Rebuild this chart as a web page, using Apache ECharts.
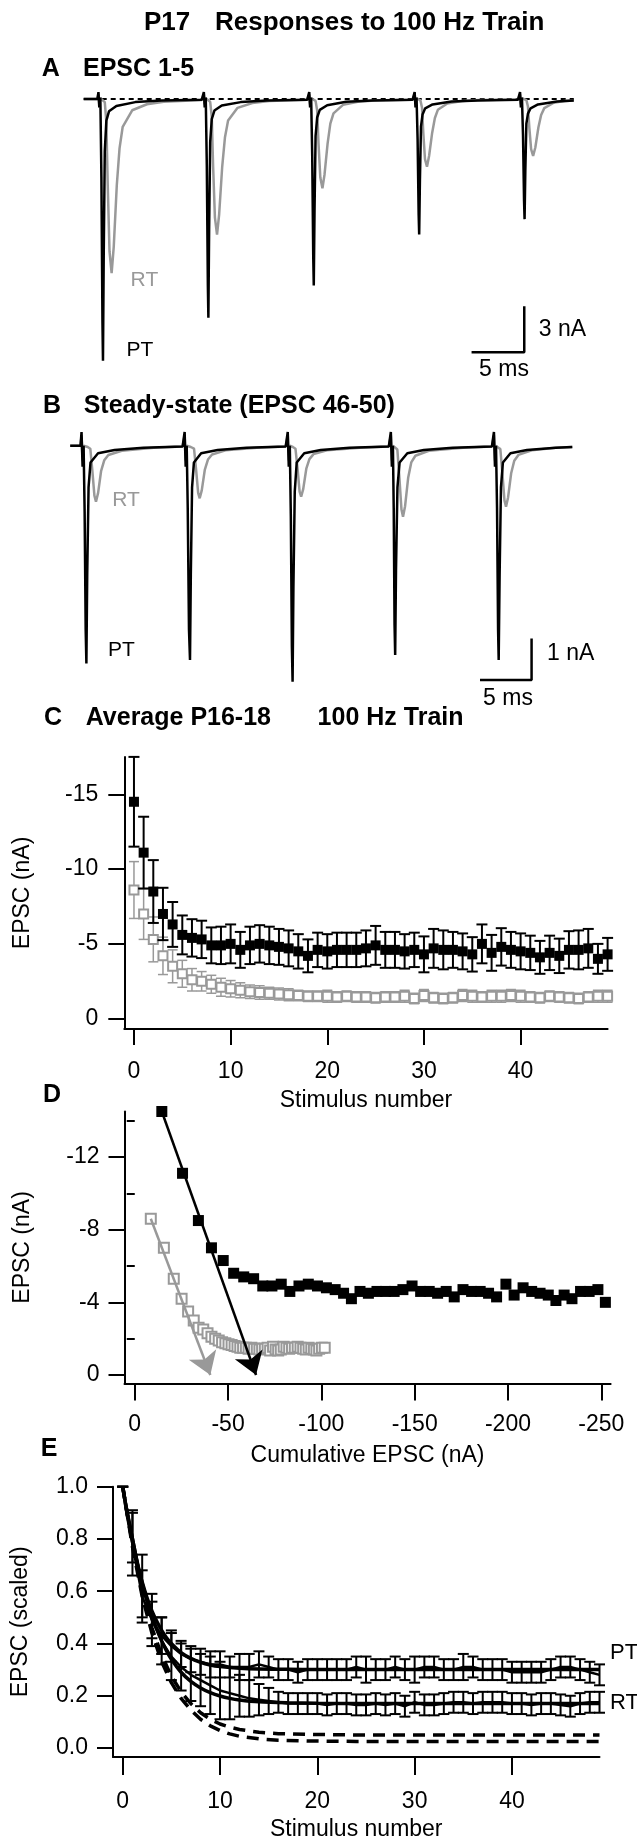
<!DOCTYPE html>
<html><head><meta charset="utf-8">
<script src="https://cdn.jsdelivr.net/npm/echarts@6/dist/echarts.min.js"></script>
<style>html,body{margin:0;padding:0;background:#fff}#c{width:637px;height:1842px}</style>
</head><body><div id="c"></div>
<script>
const FONT = '"Liberation Sans", Arial, Helvetica, sans-serif';
const GRAY = '#999999';

// ---------- Panel A: EPSC 1-5 traces (t in ms, I in nA) ----------
const A_PT = [[-1.4,0],[-0.1,0],[0,0.45],[0.08,-0.55],[0.18,0.1],[0.28,-5.1],[0.38,-14.5],[0.43,-17.0],[0.5,-10.2],[0.6,-3.4],[0.75,-1.4],[1.0,-0.8],[1.7,-0.45],[3.5,-0.2],[6,-0.1],[9.8,-0.05],
[10,0.45],[10.08,-0.55],[10.18,0.1],[10.28,-4.3],[10.38,-12.1],[10.43,-14.2],[10.5,-8.5],[10.6,-2.8],[10.75,-1.3],[11,-0.75],[11.7,-0.42],[13.5,-0.2],[16,-0.1],[19.8,-0.05],
[20,0.45],[20.08,-0.55],[20.18,0.1],[20.28,-3.6],[20.38,-10.3],[20.43,-12.1],[20.5,-7.3],[20.6,-2.4],[20.75,-1.2],[21,-0.7],[21.7,-0.4],[23.5,-0.18],[26,-0.1],[29.8,-0.05],
[30,0.45],[30.08,-0.55],[30.18,0.1],[30.28,-2.6],[30.38,-7.5],[30.43,-8.8],[30.5,-5.3],[30.6,-1.8],[30.75,-1.0],[31,-0.6],[31.7,-0.35],[33.5,-0.16],[36,-0.09],[39.8,-0.05],
[40,0.45],[40.08,-0.55],[40.18,0.1],[40.28,-2.3],[40.38,-6.6],[40.43,-7.8],[40.5,-4.7],[40.6,-1.6],[40.75,-0.95],[41,-0.6],[41.7,-0.35],[43.5,-0.16],[45.1,-0.1]];
const A_RT = [[-1.4,0],[-0.1,0],[0,0.3],[0.08,-0.35],[0.18,0.05],[0.6,-0.2],[0.75,-1.5],[0.88,-5.6],[1.05,-9.9],[1.25,-11.3],[1.45,-9.6],[1.74,-5.6],[2.0,-3.2],[2.3,-1.8],[3.2,-0.73],[4.6,-0.34],[6.2,-0.17],[9.8,-0.06],
[10,0.3],[10.08,-0.35],[10.18,0.05],[10.6,-0.18],[10.75,-1.15],[10.88,-4.4],[11.05,-7.7],[11.25,-8.8],[11.45,-7.5],[11.74,-4.4],[12.0,-2.5],[12.3,-1.4],[13.2,-0.57],[14.6,-0.26],[16.2,-0.13],[19.8,-0.05],
[20,0.3],[20.08,-0.35],[20.18,0.05],[20.6,-0.12],[20.75,-0.75],[20.88,-2.9],[21.05,-5.1],[21.25,-5.8],[21.45,-4.9],[21.74,-2.9],[22.0,-1.6],[22.3,-0.93],[23.2,-0.38],[24.6,-0.17],[26.2,-0.09],[29.8,-0.04],
[30,0.3],[30.08,-0.35],[30.18,0.05],[30.55,-0.09],[30.7,-0.57],[30.82,-2.2],[30.98,-3.9],[31.17,-4.4],[31.37,-3.7],[31.66,-2.2],[31.92,-1.23],[32.2,-0.7],[33.1,-0.29],[34.5,-0.13],[36.1,-0.07],[39.8,-0.03],
[40,0.3],[40.08,-0.35],[40.18,0.05],[40.6,-0.07],[40.75,-0.48],[40.88,-1.85],[41.05,-3.25],[41.24,-3.7],[41.45,-3.15],[41.74,-1.85],[42.0,-1.04],[42.3,-0.59],[43.2,-0.24],[44.2,-0.13],[45.1,-0.09]];
const A_BASELINE = [[-1.4,0],[45.1,0]];
const A_SCALEBAR = [[35.4,-16.45],[40.4,-16.45],[40.4,-13.45]]; // 5 ms, 3 nA

// ---------- Panel B: steady-state EPSC 46-50 ----------
const B_PT = [[-1.1,0],[-0.1,0],[0,0.33],[0.1,-0.5],[0.2,0],[0.3,-1.6],[0.4,-4.4],[0.47,-5.22],[0.55,-3.1],[0.68,-1.0],[0.87,-0.4],[1.6,-0.18],[3.2,-0.1],[6,-0.05],[9.8,-0.02],
[10,0.33],[10.1,-0.5],[10.2,0],[10.3,-1.5],[10.42,-4.4],[10.52,-5.14],[10.6,-3.1],[10.72,-1.0],[10.9,-0.4],[11.6,-0.18],[13.2,-0.1],[16,-0.05],[19.8,-0.02],
[20,0.33],[20.1,-0.5],[20.2,0],[20.3,-1.7],[20.4,-4.8],[20.47,-5.66],[20.55,-3.4],[20.68,-1.1],[20.87,-0.4],[21.6,-0.18],[23.2,-0.1],[26,-0.05],[29.8,-0.02],
[30,0.33],[30.1,-0.5],[30.2,0],[30.28,-1.5],[30.36,-4.3],[30.42,-5.02],[30.5,-3.0],[30.64,-1.0],[30.85,-0.4],[31.6,-0.18],[33.2,-0.1],[36,-0.05],[39.8,-0.02],
[40,0.33],[40.1,-0.5],[40.2,0],[40.3,-1.5],[40.4,-4.4],[40.46,-5.14],[40.55,-3.1],[40.68,-1.0],[40.87,-0.4],[41.6,-0.18],[43.2,-0.1],[46,-0.05],[47.6,-0.03]];
const B_RT = [[-1.1,0],[-0.1,0],[0,0.25],[0.1,-0.35],[0.2,0],[0.6,-0.03],[0.85,-0.07],[1.05,-0.6],[1.25,-1.2],[1.4,-1.34],[1.6,-1.14],[1.9,-0.6],[2.2,-0.35],[2.6,-0.22],[3.9,-0.12],[7,-0.05],[9.8,-0.02],
[10,0.25],[10.1,-0.35],[10.2,0],[10.6,-0.03],[10.91,-0.07],[11.11,-0.57],[11.31,-1.13],[11.46,-1.26],[11.66,-1.07],[11.96,-0.57],[12.26,-0.33],[12.66,-0.21],[13.96,-0.11],[17,-0.05],[19.8,-0.02],
[20,0.25],[20.1,-0.35],[20.2,0],[20.5,-0.03],[20.75,-0.07],[20.95,-0.55],[21.15,-1.1],[21.3,-1.22],[21.5,-1.04],[21.8,-0.55],[22.1,-0.32],[22.5,-0.2],[23.8,-0.11],[27,-0.05],[29.8,-0.02],
[30,0.25],[30.1,-0.35],[30.2,0],[30.4,-0.04],[30.63,-0.09],[30.83,-0.77],[31.03,-1.53],[31.18,-1.7],[31.38,-1.45],[31.68,-0.77],[31.98,-0.4],[32.38,-0.24],[33.68,-0.12],[37,-0.05],[39.8,-0.02],
[40,0.25],[40.1,-0.35],[40.2,0],[40.4,-0.04],[40.62,-0.08],[40.82,-0.66],[41.02,-1.31],[41.17,-1.46],[41.37,-1.24],[41.67,-0.66],[41.97,-0.36],[42.37,-0.22],[43.67,-0.11],[46,-0.05],[47.6,-0.03]];
const B_SCALEBAR = [[38.65,-5.62],[43.65,-5.62],[43.65,-4.62]]; // 5 ms, 1 nA

// ---------- Panel C: average EPSC (nA) vs stimulus number ----------
const PT_MEAN = [-14.5,-11.1,-8.5,-7.0,-6.3,-5.6,-5.4,-5.3,-4.9,-4.9,-5.0,-4.6,-4.9,-5.0,-4.9,-4.8,-4.7,-4.5,-4.2,-4.6,-4.5,-4.6,-4.6,-4.6,-4.7,-4.9,-4.6,-4.6,-4.5,-4.6,-4.3,-4.7,-4.6,-4.6,-4.5,-4.3,-5.0,-4.4,-4.8,-4.6,-4.5,-4.4,-4.1,-4.4,-4.2,-4.6,-4.6,-4.7,-4.0,-4.3];
const PT_SEM = [3.0,2.4,2.1,1.75,1.5,1.3,1.25,1.25,1.2,1.25,1.3,1.2,1.25,1.25,1.25,1.2,1.2,1.15,1.1,1.15,1.15,1.15,1.15,1.15,1.2,1.3,1.2,1.2,1.15,1.15,1.2,1.3,1.3,1.2,1.2,1.15,1.3,1.2,1.25,1.2,1.2,1.15,1.1,1.15,1.15,1.25,1.3,1.3,1.0,1.1];
const RT_MEAN = [-8.6,-7.0,-5.3,-4.2,-3.5,-3.0,-2.6,-2.5,-2.3,-2.1,-2.0,-1.9,-1.8,-1.75,-1.7,-1.65,-1.6,-1.55,-1.5,-1.5,-1.5,-1.45,-1.5,-1.45,-1.45,-1.4,-1.45,-1.45,-1.5,-1.35,-1.55,-1.4,-1.35,-1.4,-1.55,-1.5,-1.45,-1.5,-1.5,-1.55,-1.5,-1.45,-1.4,-1.5,-1.45,-1.4,-1.35,-1.45,-1.5,-1.5];
const RT_SEM = [1.9,1.7,1.5,1.25,1.1,0.9,0.75,0.65,0.6,0.6,0.55,0.5,0.45,0.45,0.4,0.4,0.4,0.35,0.35,0.35,0.4,0.35,0.35,0.35,0.35,0.35,0.35,0.35,0.4,0.35,0.4,0.35,0.35,0.35,0.4,0.4,0.35,0.4,0.4,0.4,0.4,0.35,0.35,0.35,0.35,0.35,0.35,0.35,0.4,0.4];

// ---------- Panel D: linear back-extrapolation arrows ----------
const D_ARROW_PT = [[-14.5,-14.5],[-65,0]];
const D_ARROW_RT = [[-8.6,-8.6],[-40.5,0]];

// ---------- Panel E: scaled EPSC ----------
const PT_SCALED = [1.0,0.78,0.58,0.49,0.43,0.39,0.36,0.34,0.33,0.32,0.32,0.31,0.31,0.31,0.32,0.31,0.30,0.30,0.29,0.30,0.30,0.30,0.30,0.30,0.31,0.30,0.30,0.30,0.31,0.30,0.30,0.31,0.31,0.30,0.30,0.31,0.31,0.30,0.30,0.30,0.29,0.29,0.29,0.29,0.30,0.31,0.31,0.30,0.29,0.28];
const PT_SCALED_SEM = [0.0,0.12,0.1,0.07,0.07,0.06,0.05,0.05,0.05,0.05,0.05,0.04,0.05,0.05,0.05,0.04,0.04,0.04,0.04,0.04,0.04,0.04,0.04,0.04,0.04,0.05,0.04,0.04,0.04,0.04,0.05,0.04,0.04,0.04,0.04,0.05,0.04,0.04,0.04,0.04,0.04,0.04,0.04,0.04,0.04,0.04,0.04,0.04,0.04,0.04];
const RT_SCALED = [1.0,0.81,0.62,0.49,0.41,0.35,0.31,0.28,0.26,0.24,0.22,0.21,0.20,0.19,0.185,0.18,0.175,0.17,0.17,0.17,0.17,0.165,0.17,0.17,0.165,0.165,0.17,0.165,0.17,0.16,0.175,0.165,0.165,0.17,0.175,0.175,0.17,0.175,0.175,0.175,0.17,0.17,0.165,0.17,0.17,0.165,0.16,0.17,0.175,0.175];
const RT_SCALED_SEM = [0,0.1,0.12,0.1,0.09,0.09,0.09,0.1,0.1,0.11,0.11,0.1,0.08,0.07,0.06,0.05,0.04,0.04,0.04,0.04,0.04,0.04,0.04,0.04,0.04,0.04,0.04,0.04,0.04,0.04,0.04,0.04,0.04,0.04,0.04,0.04,0.04,0.04,0.04,0.04,0.04,0.04,0.04,0.04,0.04,0.04,0.04,0.04,0.04,0.04];
const PT_FIT = [[0,1.0],[0.5,0.885],[1,0.79],[1.5,0.705],[2,0.635],[2.5,0.575],[3,0.525],[3.5,0.485],[4,0.45],[4.5,0.422],[5,0.40],[6,0.365],[7,0.343],[8,0.328],[9,0.318],[10,0.312],[12,0.305],[14,0.302],[17,0.301],[20,0.30],[49,0.30]];
const RT_FIT = [[0,1.0],[0.5,0.89],[1,0.80],[1.5,0.71],[2,0.63],[2.5,0.565],[3,0.505],[3.5,0.455],[4,0.41],[4.5,0.372],[5,0.34],[6,0.29],[7,0.255],[8,0.23],[9,0.212],[10,0.199],[11,0.19],[12,0.184],[14,0.177],[17,0.173],[20,0.171],[25,0.17],[49,0.17]];
const PT_DEPL = [[0,1.0],[1,0.78],[2,0.60],[3,0.46],[4,0.355],[5,0.275],[6,0.215],[7,0.17],[8,0.135],[9,0.11],[10,0.092],[11,0.08],[12,0.071],[14,0.06],[16,0.055],[19,0.052],[24,0.05],[49,0.05]];
const RT_DEPL = [[0,1.0],[1,0.77],[2,0.58],[3,0.44],[4,0.33],[5,0.25],[6,0.19],[7,0.145],[8,0.11],[9,0.085],[10,0.067],[11,0.054],[12,0.045],[14,0.035],[16,0.03],[19,0.027],[24,0.025],[49,0.025]];

// ---------- tick values ----------
const C_X_TICKS = [0,10,20,30,40];
const C_Y_TICKS = [0,-5,-10,-15];
const D_X_TICKS = [0,-50,-100,-150,-200,-250];
const D_Y_TICKS = [0,-4,-8,-12];
const D_Y_MINOR = [-2,-6,-10,-14];
const E_X_TICKS = [0,10,20,30,40];
const E_Y_TICKS = [0,0.2,0.4,0.6,0.8,1.0];

// ---------- derived ----------
const idx = a => a.map((v,i)=>[i,v]);
const errData = (m,s) => m.map((v,i)=>[i, v - s[i], v + s[i]]);
function cumulative(a){ let s=0; return a.map(v=>{ s+=v; return [s,v]; }); }

function errRender(color, lw, cap){
  return function(params, api){
    const x = api.value(0);
    const p1 = api.coord([x, api.value(1)]);
    const p2 = api.coord([x, api.value(2)]);
    const h = cap/2, st = {stroke: color, lineWidth: lw};
    return {type:'group', children:[
      {type:'line', shape:{x1:p1[0],y1:p1[1],x2:p2[0],y2:p2[1]}, style:st},
      {type:'line', shape:{x1:p1[0]-h,y1:p1[1],x2:p1[0]+h,y2:p1[1]}, style:st},
      {type:'line', shape:{x1:p2[0]-h,y1:p2[1],x2:p2[0]+h,y2:p2[1]}, style:st}
    ]};
  };
}

const axisTxt = {fontSize:23, color:'#000', fontFamily:FONT};
function visAxis(extra){
  return Object.assign({
    axisLine:{show:true, onZero:false, lineStyle:{color:'#000', width:2}},
    splitLine:{show:false}
  }, extra);
}
const hidden = (gi,min,max)=>({gridIndex:gi, type:'value', min, max, show:false});

const chart = echarts.init(document.getElementById('c'), null, {renderer:'canvas'});
const T = (text,x,y,o)=>({type:'text', x, y, style:Object.assign({text, fontSize:23, fontFamily:FONT, fill:'#000', align:'left', verticalAlign:'middle'}, o||{})});
const B = {fontWeight:'bold', fontSize:25};

chart.setOption({
  animation:false,
  backgroundColor:'#fff',
  grid:[
    {left:83.7, top:89.8, width:490.1, height:274.1},
    {left:70.2, top:427, width:502.1, height:260.6},
    {left:124.3, top:756.9, width:483.3, height:272.1},
    {left:124.5, top:1111.5, width:486.1, height:271.9},
    {left:113, top:1486.7, width:486.5, height:270.6}
  ],
  xAxis:[
    hidden(0,-1.4,45.1),
    hidden(1,-1.1,47.6),
    visAxis({gridIndex:2, type:'value', min:-1, max:49, position:'bottom',
      axisTick:{length:16, lineStyle:{width:2,color:'#000'}, customValues:C_X_TICKS},
      axisLabel:Object.assign({customValues:C_X_TICKS, margin:31}, axisTxt),
      name:'Stimulus number', nameLocation:'middle', nameGap:60, nameTextStyle:axisTxt}),
    visAxis({gridIndex:3, type:'value', min:-255, max:5.5, inverse:true, position:'bottom',
      axisTick:{length:17, lineStyle:{width:2,color:'#000'}, customValues:D_X_TICKS},
      axisLabel:Object.assign({customValues:D_X_TICKS, margin:30}, axisTxt),
      name:'Cumulative EPSC (nA)', nameLocation:'middle', nameGap:61, nameTextStyle:axisTxt}),
    visAxis({gridIndex:4, type:'value', min:-1, max:49, position:'bottom',
      axisTick:{length:18, lineStyle:{width:2,color:'#000'}, customValues:E_X_TICKS},
      axisLabel:Object.assign({customValues:E_X_TICKS, margin:33}, axisTxt),
      name:'Stimulus number', nameLocation:'middle', nameGap:61, nameTextStyle:axisTxt})
  ],
  yAxis:[
    hidden(0,-17.2,0.6),
    hidden(1,-5.8,0.45),
    visAxis({gridIndex:2, type:'value', min:-17.5, max:0.69, inverse:true, position:'left',
      axisTick:{length:16, lineStyle:{width:2,color:'#000'}, customValues:C_Y_TICKS},
      axisLabel:Object.assign({customValues:C_Y_TICKS, margin:26}, axisTxt),
      name:'EPSC (nA)', nameLocation:'middle', nameGap:90, nameTextStyle:axisTxt}),
    visAxis({gridIndex:3, type:'value', min:-14.5, max:0.46, inverse:true, position:'left',
      axisTick:{length:16, lineStyle:{width:2,color:'#000'}, customValues:D_Y_TICKS},
      axisLabel:Object.assign({customValues:D_Y_TICKS, margin:25}, axisTxt),
      name:'EPSC (nA)', nameLocation:'middle', nameGap:90, nameTextStyle:axisTxt}),
    {gridIndex:3, type:'value', min:-14.5, max:0.46, inverse:true, position:'left',
      axisLine:{show:false}, splitLine:{show:false}, axisLabel:{show:false},
      axisTick:{show:true, length:8, lineStyle:{width:2,color:'#000'}, customValues:D_Y_MINOR}},
    visAxis({gridIndex:4, type:'value', min:-0.0344, max:1.0, position:'left',
      axisTick:{length:16, lineStyle:{width:2,color:'#000'}, customValues:E_Y_TICKS},
      axisLabel:Object.assign({customValues:E_Y_TICKS, margin:25, formatter:v=>Number(v).toFixed(1)}, axisTxt),
      name:'EPSC (scaled)', nameLocation:'middle', nameGap:81, nameTextStyle:axisTxt})
  ],
  series:[
    // A
    {type:'line', xAxisIndex:0, yAxisIndex:0, data:A_BASELINE, symbol:'none', lineStyle:{color:'#000', width:2, type:[5,4]}, z:1},
    {type:'line', xAxisIndex:0, yAxisIndex:0, data:A_RT, symbol:'none', lineStyle:{color:GRAY, width:2.5}, z:2},
    {type:'line', xAxisIndex:0, yAxisIndex:0, data:A_PT, symbol:'none', lineStyle:{color:'#000', width:2.5}, z:3},
    {type:'line', xAxisIndex:0, yAxisIndex:0, data:A_SCALEBAR, symbol:'none', lineStyle:{color:'#000', width:2.5}, z:3},
    // B
    {type:'line', xAxisIndex:1, yAxisIndex:1, data:B_RT, symbol:'none', lineStyle:{color:GRAY, width:2.5}, z:2},
    {type:'line', xAxisIndex:1, yAxisIndex:1, data:B_PT, symbol:'none', lineStyle:{color:'#000', width:2.5}, z:3},
    {type:'line', xAxisIndex:1, yAxisIndex:1, data:B_SCALEBAR, symbol:'none', lineStyle:{color:'#000', width:2.5}, z:3},
    // C
    {type:'custom', xAxisIndex:2, yAxisIndex:2, data:errData(RT_MEAN,RT_SEM), renderItem:errRender(GRAY,1.5,10), encode:{x:0,y:[1,2]}, clip:false, z:2},
    {type:'scatter', xAxisIndex:2, yAxisIndex:2, data:idx(RT_MEAN), symbol:'emptyRect', symbolSize:9, itemStyle:{color:GRAY, borderColor:GRAY, borderWidth:1.5, opacity:1}, z:3},
    {type:'custom', xAxisIndex:2, yAxisIndex:2, data:errData(PT_MEAN,PT_SEM), renderItem:errRender('#000',2,11), encode:{x:0,y:[1,2]}, clip:false, z:4},
    {type:'scatter', xAxisIndex:2, yAxisIndex:2, data:idx(PT_MEAN), symbol:'rect', symbolSize:10, itemStyle:{color:'#000', opacity:1}, z:5},
    // D
    {type:'scatter', xAxisIndex:3, yAxisIndex:3, data:cumulative(RT_MEAN), symbol:'emptyRect', symbolSize:10, itemStyle:{color:GRAY, borderColor:GRAY, borderWidth:1.5, opacity:1}, z:2},
    {type:'scatter', xAxisIndex:3, yAxisIndex:3, data:cumulative(PT_MEAN), symbol:'rect', symbolSize:11, itemStyle:{color:'#000', opacity:1}, z:3},
    {type:'lines', coordinateSystem:'cartesian2d', xAxisIndex:3, yAxisIndex:3, data:[{coords:D_ARROW_RT}], symbol:['none','arrow'], symbolSize:[13,22], lineStyle:{color:GRAY, width:2.5, opacity:1}, z:4},
    {type:'lines', coordinateSystem:'cartesian2d', xAxisIndex:3, yAxisIndex:3, data:[{coords:D_ARROW_PT}], symbol:['none','arrow'], symbolSize:[13,22], lineStyle:{color:'#000', width:2.5, opacity:1}, z:5},
    // E
    {type:'line', xAxisIndex:4, yAxisIndex:5, data:PT_DEPL, symbol:'none', lineStyle:{color:'#000', width:3.5, type:[12,8]}, z:2},
    {type:'line', xAxisIndex:4, yAxisIndex:5, data:RT_DEPL, symbol:'none', lineStyle:{color:'#000', width:3.5, type:[12,8]}, z:2},
    {type:'custom', xAxisIndex:4, yAxisIndex:5, data:errData(PT_SCALED,PT_SCALED_SEM), renderItem:errRender('#000',2,11), encode:{x:0,y:[1,2]}, clip:false, z:3},
    {type:'custom', xAxisIndex:4, yAxisIndex:5, data:errData(RT_SCALED,RT_SCALED_SEM), renderItem:errRender('#000',2,11), encode:{x:0,y:[1,2]}, clip:false, z:3},
    {type:'line', xAxisIndex:4, yAxisIndex:5, data:idx(PT_SCALED), symbol:'none', lineStyle:{color:'#000', width:2.5}, z:3},
    {type:'line', xAxisIndex:4, yAxisIndex:5, data:idx(RT_SCALED), symbol:'none', lineStyle:{color:'#000', width:2.5}, z:3},
    {type:'line', xAxisIndex:4, yAxisIndex:5, data:PT_FIT, symbol:'none', smooth:0.3, lineStyle:{color:'#000', width:3.5}, z:4},
    {type:'line', xAxisIndex:4, yAxisIndex:5, data:RT_FIT, symbol:'none', smooth:0.3, lineStyle:{color:'#000', width:3.5}, z:4}
  ],
  graphic:[
    T('P17',144,22.5,{fontWeight:'bold', fontSize:26}),
    T('Responses to 100 Hz Train',215,22.5,{fontWeight:'bold', fontSize:26}),
    T('A',41.7,69.5,B), T('EPSC 1-5',83,69.5,B),
    T('RT',130.6,280,{fill:GRAY, fontSize:21}), T('PT',126.5,350,{fontSize:21}),
    T('3 nA',538.8,330), T('5 ms',504,370,{align:'center'}),
    T('B',42.9,406,B), T('Steady-state (EPSC 46-50)',83.7,406,B),
    T('RT',112.2,500,{fill:GRAY, fontSize:21}), T('PT',108,650.7,{fontSize:21}),
    T('1 nA',547,653.3), T('5 ms',508,698.3,{align:'center'}),
    T('C',44,718.3,B), T('Average P16-18',85.7,718.3,B), T('100 Hz Train',317.6,718.3,B),
    T('D',42.9,1095,B),
    T('E',40.8,1449,B),
    T('PT',610,1653,{fontSize:22}), T('RT',610,1702.5,{fontSize:22})
  ]
});
</script></body></html>
